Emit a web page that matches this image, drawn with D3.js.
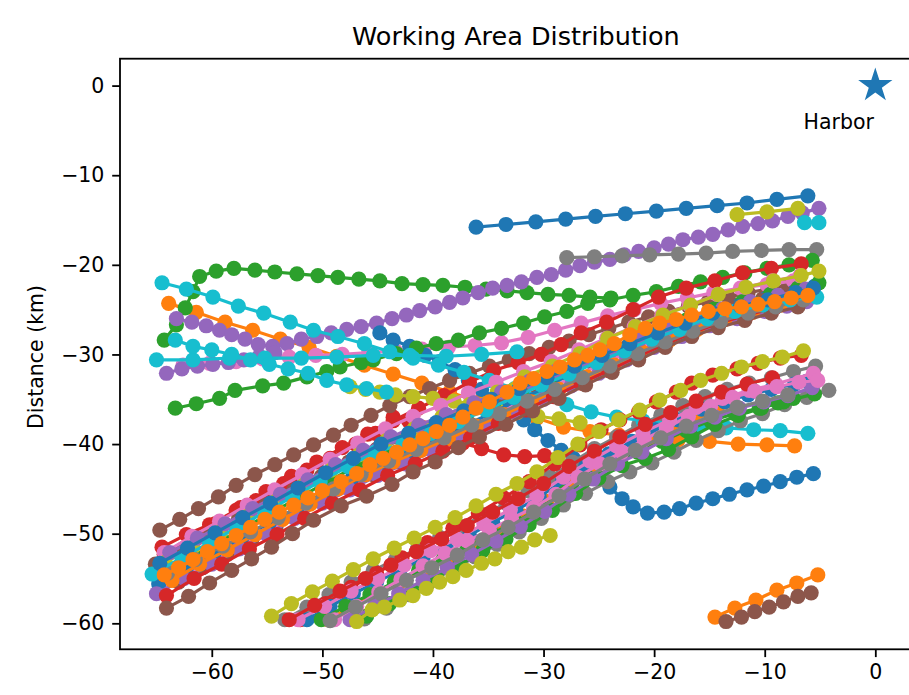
<!DOCTYPE html>
<html lang="en">
<head>
<meta charset="UTF-8">
<title>Working Area Distribution</title>
<script src="https://d3js.org/d3.v7.min.js"></script>
<style>
  body { margin: 0; background: #fff; }
  svg { display: block; font-family: "DejaVu Sans", sans-serif; }
</style>
</head>
<body>
<svg id="chart" width="909" height="695"></svg>
<script>
// boat tracks, [x km, y km] relative to the harbor
// cycle 1
const blueNorth = [[-36.1,-15.8],[-33.4,-15.5],[-30.7,-15.2],[-28.0,-14.9],[-25.3,-14.6],[-22.6,-14.3],[-19.8,-14.0],[-17.1,-13.7],[-14.3,-13.4],[-11.6,-13.1],[-8.9,-12.7],[-6.1,-12.3]];
const orangeWest = [[-63.9,-24.3],[-61.4,-25.3],[-58.8,-26.4],[-56.3,-27.3],[-53.8,-28.3],[-51.2,-29.2],[-48.7,-30.2],[-46.2,-31.2],[-43.6,-32.2],[-41.0,-33.2],[-38.5,-34.2],[-35.8,-35.3],[-33.2,-36.2],[-30.6,-37.1],[-28.2,-38.1],[-25.8,-38.6],[-23.2,-39.0],[-20.5,-39.3],[-17.8,-39.5],[-15.0,-39.7],[-12.4,-40.0],[-9.8,-40.1],[-7.3,-40.2]];
const greenNorth = [[-64.3,-28.4],[-63.2,-26.7],[-62.4,-24.8],[-61.7,-23.0],[-61.1,-21.3],[-59.6,-20.7],[-58.0,-20.4],[-56.1,-20.6],[-54.3,-20.8],[-52.3,-21.0],[-50.4,-21.2],[-48.6,-21.4],[-46.7,-21.6],[-44.8,-21.8],[-42.8,-22.1],[-40.9,-22.2],[-39.1,-22.3],[-37.1,-22.5],[-35.2,-22.7],[-33.3,-22.9],[-31.5,-23.1],[-29.6,-23.3],[-27.7,-23.4],[-25.8,-23.6],[-23.9,-23.7]];
const redTurn = [[-64.5,-51.5],[-62.3,-50.1],[-60.2,-49.0],[-57.8,-47.4],[-56.0,-46.3],[-53.5,-44.4],[-51.4,-42.9],[-49.3,-41.6],[-47.0,-40.0],[-45.2,-38.8],[-43.6,-37.0],[-42.2,-37.4],[-40.8,-38.2],[-39.1,-39.1],[-37.3,-39.9],[-35.6,-40.5],[-33.6,-41.2],[-31.7,-41.4],[-29.9,-41.3]];
const purpleLong = [[-63.2,-26.0],[-61.8,-26.4],[-60.5,-26.8],[-59.3,-27.3],[-58.2,-27.8],[-57.0,-28.3],[-55.8,-28.9],[-54.5,-29.1],[-53.2,-28.8],[-51.9,-28.3],[-50.5,-28.0],[-49.2,-27.6],[-47.8,-27.2],[-46.5,-26.9],[-45.1,-26.5],[-43.7,-26.0],[-42.4,-25.6],[-41.2,-25.1],[-39.8,-24.7],[-38.5,-24.2],[-37.3,-23.7],[-35.9,-23.1],[-34.6,-22.6],[-33.3,-22.3],[-32.0,-21.9],[-30.6,-21.4],[-29.3,-21.1],[-28.0,-20.6],[-26.7,-20.1],[-25.4,-19.7],[-24.0,-19.4],[-22.7,-18.9],[-21.4,-18.5],[-20.0,-18.1],[-18.7,-17.7],[-17.4,-17.2],[-16.0,-16.9],[-14.7,-16.6],[-13.3,-16.1],[-12.0,-15.7],[-10.6,-15.4],[-9.3,-15.1],[-7.9,-14.6],[-6.6,-14.2],[-5.1,-13.7]];
const brownTop = [[-64.7,-49.6],[-62.9,-48.4],[-61.2,-47.2],[-59.4,-45.9],[-57.8,-44.6],[-56.1,-43.4],[-54.3,-42.3],[-52.6,-41.2],[-50.8,-40.1],[-49.0,-39.0],[-47.4,-37.9],[-45.6,-36.8],[-43.9,-35.7],[-42.1,-34.7],[-40.3,-33.8],[-38.5,-32.9],[-36.7,-32.1],[-34.9,-31.3],[-33.1,-30.6],[-31.3,-29.9],[-29.5,-29.2],[-27.7,-28.5],[-25.9,-27.8],[-24.1,-27.1],[-22.3,-26.4],[-20.5,-25.8],[-18.7,-25.2],[-16.9,-24.6],[-15.1,-24.1],[-13.3,-23.6],[-11.5,-23.1],[-9.7,-22.7],[-7.9,-22.3]];
const pinkWest = [[-62.6,-31.2],[-60.2,-31.0],[-57.8,-30.8],[-55.4,-30.5],[-53.0,-30.3],[-50.6,-30.1],[-48.2,-30.0],[-45.8,-29.8],[-43.4,-29.6],[-41.0,-29.4],[-38.6,-29.2],[-36.2,-29.0],[-33.8,-28.7],[-31.4,-28.1],[-29.0,-27.3],[-26.6,-26.5],[-24.2,-25.7],[-21.8,-25.0],[-19.4,-24.3],[-17.0,-23.7],[-14.6,-23.1],[-12.2,-22.6],[-9.8,-22.2],[-7.4,-21.8]];
const grayNorth = [[-27.9,-19.2],[-25.4,-19.1],[-22.9,-19.0],[-20.4,-18.9],[-17.8,-18.8],[-15.3,-18.7],[-12.9,-18.5],[-10.3,-18.4],[-7.8,-18.3],[-5.3,-18.3]];
const oliveShort = [[-12.5,-14.4],[-9.8,-14.1],[-7.0,-13.7]];
const cyanShort = [[-6.4,-15.3],[-5.1,-15.3]];

// cycle 2
const blueDip = [[-44.8,-27.6],[-43.6,-28.4],[-42.1,-29.1],[-40.7,-30.1],[-39.4,-30.8],[-38.0,-31.7],[-36.8,-32.9],[-35.6,-33.9],[-34.4,-34.9],[-33.1,-36.1],[-31.8,-37.3],[-30.8,-38.4],[-29.6,-39.6],[-28.4,-40.7],[-27.3,-41.6],[-26.1,-42.5],[-25.1,-43.6],[-24.0,-44.8],[-22.9,-46.1],[-21.9,-47.0],[-20.6,-47.7],[-19.1,-47.6],[-17.7,-47.2],[-16.2,-46.6],[-14.7,-46.1],[-13.2,-45.6],[-11.6,-45.1],[-10.1,-44.7],[-8.6,-44.2],[-7.1,-43.7],[-5.6,-43.3]];
const orangeSouth = [[-14.5,-59.3],[-12.7,-58.3],[-10.8,-57.4],[-8.9,-56.3],[-7.1,-55.5],[-5.2,-54.6]];
const greenRise = [[-63.3,-36.0],[-61.4,-35.5],[-59.3,-34.9],[-57.9,-34.0],[-55.4,-33.5],[-53.5,-33.2],[-51.4,-32.5],[-49.6,-31.9],[-48.4,-31.4],[-46.5,-30.9],[-45.4,-30.6],[-43.3,-29.9],[-41.5,-29.3],[-39.7,-28.8],[-37.7,-28.4],[-35.8,-27.6],[-33.8,-27.1],[-31.8,-26.5],[-29.9,-25.8],[-27.9,-25.2],[-26.0,-24.3],[-24.0,-23.9],[-21.9,-23.4],[-19.8,-23.0],[-17.8,-22.4],[-15.8,-21.9],[-13.8,-21.4],[-11.8,-20.9],[-9.8,-20.4],[-7.8,-20.0],[-5.7,-19.5]];
const redTop = [[-64.3,-52.3],[-62.0,-50.6],[-59.7,-48.9],[-57.4,-47.1],[-55.1,-45.3],[-52.8,-43.6],[-50.5,-42.0],[-48.2,-40.4],[-45.9,-38.9],[-43.6,-37.4],[-41.3,-36.0],[-39.0,-34.6],[-36.7,-33.1],[-34.5,-31.8],[-32.3,-30.9],[-30.2,-30.0],[-28.4,-28.9],[-26.6,-27.6],[-24.3,-26.4],[-21.9,-25.0],[-19.6,-23.6],[-17.1,-22.6],[-14.5,-21.8],[-12.0,-20.9],[-9.4,-20.4],[-6.7,-19.9]];
const purpleWest = [[-64.1,-32.1],[-62.7,-31.6],[-61.3,-31.3],[-59.9,-31.1],[-58.5,-30.9],[-57.1,-30.6],[-55.7,-30.2],[-54.3,-29.8]];
const brownMid = [[-63.0,-55.4],[-60.8,-53.8],[-58.6,-52.3],[-56.4,-50.8],[-54.2,-49.3],[-52.0,-47.8],[-49.8,-46.3],[-47.6,-44.9],[-45.4,-43.4],[-43.2,-42.0],[-41.0,-40.6],[-38.8,-39.2],[-36.6,-37.8],[-34.4,-36.5],[-32.2,-35.0],[-30.0,-33.6],[-27.8,-32.2],[-25.6,-30.9],[-23.4,-29.6],[-21.2,-28.4],[-19.0,-27.3],[-16.8,-26.3],[-14.6,-25.4],[-12.4,-24.5],[-10.2,-23.8]];
const pinkUpper = [[-64.4,-55.6],[-61.9,-53.8],[-59.4,-52.2],[-56.9,-50.5],[-54.4,-48.8],[-51.9,-47.1],[-49.4,-45.4],[-46.9,-43.8],[-44.4,-42.2],[-41.9,-40.9],[-39.4,-39.5],[-36.9,-38.0],[-34.4,-36.6],[-31.9,-35.1],[-29.4,-33.7],[-26.9,-32.3],[-24.4,-30.9],[-21.9,-29.5],[-19.4,-28.1],[-16.9,-26.9],[-14.4,-25.7],[-11.9,-24.8],[-9.4,-24.1],[-6.9,-23.3]];
const grayLowerA = [[-53.4,-59.6],[-51.4,-58.2],[-49.4,-56.8],[-47.4,-55.4],[-45.4,-54.1],[-43.4,-52.9],[-41.4,-51.7],[-39.4,-50.4],[-37.4,-49.2],[-35.4,-47.9],[-33.4,-46.6],[-31.4,-45.2],[-29.4,-43.7],[-27.4,-42.0],[-25.4,-40.5],[-23.4,-39.2],[-21.4,-37.9],[-19.4,-36.8],[-17.4,-35.7],[-15.4,-34.7],[-13.4,-33.9],[-11.4,-33.2],[-9.4,-32.6],[-7.4,-31.9],[-5.4,-31.3]];
const oliveMid = [[-47.5,-33.6],[-46.1,-33.9],[-44.8,-34.2],[-43.4,-34.5],[-41.8,-34.7],[-40.0,-34.9],[-38.1,-35.2],[-36.2,-35.6],[-34.3,-36.0],[-32.4,-36.5],[-30.5,-36.9],[-28.6,-37.2],[-26.7,-37.6]];
const cyanWest = [[-64.5,-22.0],[-62.3,-22.7],[-59.9,-23.6],[-57.6,-24.6],[-55.3,-25.4],[-52.9,-26.4],[-50.8,-27.3],[-48.6,-28.0],[-46.2,-28.8],[-43.9,-29.7],[-41.8,-30.4],[-39.5,-31.2],[-37.2,-32.0],[-34.9,-32.9],[-32.6,-33.8],[-30.3,-34.7],[-27.9,-35.6],[-25.7,-36.4],[-23.4,-37.0],[-21.0,-37.4],[-18.6,-37.7],[-16.0,-38.0],[-13.5,-38.2],[-11.0,-38.4],[-8.6,-38.5],[-6.1,-38.8]];

// cycle 3
const blueUpperA = [[-64.8,-55.6],[-62.3,-53.8],[-59.8,-52.2],[-57.3,-50.5],[-54.8,-48.8],[-52.3,-47.1],[-49.8,-45.4],[-47.3,-43.8],[-44.8,-42.2],[-42.3,-40.9],[-39.8,-39.5],[-37.3,-38.0],[-34.8,-36.6],[-32.3,-35.1],[-29.8,-33.7],[-27.3,-32.0],[-24.8,-30.5],[-22.3,-29.1],[-19.8,-27.7],[-17.3,-26.5],[-14.8,-25.3],[-12.3,-24.5],[-9.8,-23.7],[-7.3,-23.0],[-5.5,-22.4]];
const orangeLower = [[-49.5,-59.6],[-47.3,-58.1],[-45.1,-56.7],[-42.9,-55.3],[-40.7,-53.8],[-38.5,-52.5],[-36.3,-51.0],[-34.1,-49.6],[-31.9,-48.0],[-29.7,-46.4],[-27.5,-44.5],[-25.3,-42.8],[-23.1,-41.3],[-20.9,-39.9],[-18.7,-38.6],[-16.5,-37.3],[-14.3,-36.3]];
const greenUpper = [[-64.5,-54.4],[-62.0,-52.7],[-59.5,-51.0],[-57.0,-49.3],[-54.5,-47.6],[-52.0,-45.9],[-49.5,-44.2],[-47.0,-42.5],[-44.5,-40.9],[-42.0,-39.6],[-39.5,-38.3],[-37.0,-36.8],[-34.5,-35.4],[-32.0,-34.1],[-29.5,-32.8],[-27.0,-31.4],[-24.5,-30.0],[-22.0,-28.6],[-19.5,-27.3],[-17.0,-26.1],[-14.5,-24.9],[-12.0,-24.1],[-9.5,-23.3],[-7.0,-22.6],[-5.1,-22.0]];
const redLowerA = [[-52.0,-59.6],[-49.7,-57.8],[-47.4,-56.0],[-45.1,-54.4],[-42.8,-52.7],[-40.5,-51.0],[-38.2,-49.4],[-35.9,-47.7],[-33.6,-46.0],[-31.3,-44.2],[-29.0,-42.2],[-26.7,-40.1],[-24.8,-38.4],[-23.1,-37.3],[-21.4,-36.4],[-19.8,-35.3],[-18.0,-34.2],[-16.6,-33.2],[-14.7,-32.3],[-12.5,-31.6],[-10.6,-31.0],[-8.6,-30.4],[-6.7,-30.1]];
const purpleUpperA = [[-65.0,-56.7],[-62.5,-55.0],[-60.0,-53.4],[-57.5,-51.7],[-55.0,-50.1],[-52.5,-48.3],[-50.0,-46.6],[-47.5,-45.1],[-45.0,-43.5],[-42.5,-42.2],[-40.0,-40.8],[-37.5,-39.5],[-35.0,-38.0],[-32.5,-36.5],[-30.0,-35.0],[-27.5,-33.5],[-25.0,-32.1],[-22.5,-30.6],[-20.0,-29.2],[-17.5,-28.0],[-15.0,-26.8],[-12.5,-26.0],[-10.0,-25.2],[-8.0,-24.6],[-6.2,-24.1]];
const brownUpperA = [[-65.1,-53.4],[-62.6,-51.7],[-60.1,-50.1],[-57.6,-48.4],[-55.1,-46.8],[-52.6,-45.2],[-50.1,-43.6],[-47.6,-42.0],[-45.1,-40.6],[-42.6,-39.4],[-40.1,-38.3],[-37.6,-37.0],[-35.1,-35.8],[-32.6,-34.6],[-30.1,-33.3],[-27.6,-32.0],[-25.1,-30.7],[-22.6,-29.3],[-20.1,-28.0],[-17.6,-26.8],[-15.1,-25.6],[-12.6,-24.8],[-10.1,-24.0],[-8.0,-23.3]];
const pinkUpperB = [[-64.3,-52.1],[-61.8,-50.3],[-59.3,-48.6],[-56.8,-46.8],[-54.3,-45.1],[-51.8,-43.4],[-49.3,-41.7],[-46.8,-39.9],[-44.3,-38.3],[-41.8,-36.9],[-39.3,-35.7],[-36.8,-34.3],[-34.3,-33.1],[-31.8,-31.9],[-29.3,-30.8],[-26.8,-29.5],[-24.3,-28.2],[-21.8,-26.9],[-19.3,-25.6],[-16.8,-24.5],[-14.3,-23.3],[-11.8,-22.5],[-9.3,-21.8],[-6.8,-21.2]];
const grayLowerB = [[-46.2,-59.5],[-44.2,-58.3],[-42.2,-56.8],[-40.2,-55.3],[-38.2,-54.0],[-36.2,-52.6],[-34.2,-51.2],[-32.2,-49.8],[-30.2,-48.3],[-28.2,-46.8],[-26.2,-45.5],[-24.2,-44.2],[-22.2,-43.1],[-20.2,-42.1],[-18.2,-40.9],[-16.2,-39.6],[-14.2,-38.5],[-12.2,-37.4],[-10.2,-36.6],[-8.2,-35.6],[-6.2,-34.8],[-4.2,-34.0]];
const oliveUpper = [[-64.2,-53.2],[-61.7,-51.5],[-59.2,-49.8],[-56.7,-48.0],[-54.2,-46.4],[-51.7,-44.6],[-49.2,-42.9],[-46.7,-41.2],[-44.2,-39.6],[-41.7,-38.3],[-39.2,-37.0],[-36.7,-35.6],[-34.2,-34.2],[-31.7,-32.5],[-29.2,-31.3],[-26.7,-29.9],[-24.2,-28.2],[-21.7,-26.9],[-19.2,-25.6],[-16.7,-24.5],[-14.2,-23.3],[-11.7,-22.5],[-9.2,-21.8],[-6.7,-21.2],[-5.1,-20.7]];
const cyanFlat = [[-65.0,-30.6],[-61.7,-30.6],[-58.4,-30.4],[-55.2,-30.4],[-51.9,-30.4],[-48.7,-30.3],[-45.4,-30.1],[-42.1,-30.1],[-38.8,-30.2],[-35.6,-30.0],[-32.4,-29.7]];

// cycle 4
const blueLower = [[-51.4,-59.6],[-49.3,-58.1],[-47.2,-56.7],[-45.1,-55.4],[-43.0,-54.1],[-40.9,-52.8],[-38.8,-51.5],[-36.7,-50.2],[-34.6,-48.7],[-32.5,-47.4],[-30.4,-45.9],[-28.3,-44.2],[-26.2,-42.5],[-24.1,-41.1],[-22.0,-39.7],[-19.9,-38.4],[-17.8,-37.3],[-15.7,-36.1],[-13.6,-35.3],[-11.5,-34.5],[-9.4,-33.9],[-7.3,-33.3],[-6.2,-33.0]];
const orangeUpper = [[-63.6,-55.2],[-61.1,-53.4],[-58.6,-51.8],[-56.1,-50.1],[-53.6,-48.4],[-51.1,-46.7],[-48.6,-45.0],[-46.1,-43.4],[-43.6,-42.0],[-41.1,-40.7],[-38.6,-39.4],[-36.1,-38.0],[-33.6,-36.7],[-31.1,-35.3],[-28.6,-33.9],[-26.1,-32.5],[-23.6,-31.2],[-21.1,-29.7],[-18.6,-28.4],[-16.1,-27.2],[-13.6,-26.1],[-11.1,-25.3],[-8.6,-24.5]];
const greenLowerA = [[-50.1,-59.6],[-47.9,-58.1],[-45.7,-56.8],[-43.5,-55.4],[-41.3,-54.1],[-39.1,-52.9],[-36.9,-51.5],[-34.7,-50.0],[-32.5,-48.7],[-30.3,-47.1],[-28.1,-45.4],[-25.9,-43.8],[-23.7,-42.2],[-21.5,-40.9],[-19.3,-39.7],[-17.1,-38.5],[-14.9,-37.4],[-12.7,-36.6],[-10.5,-36.0],[-8.3,-35.3],[-5.5,-34.4]];
const redUpper = [[-64.1,-56.9],[-61.6,-55.0],[-59.1,-53.4],[-56.6,-51.7],[-54.1,-50.1],[-51.6,-48.3],[-49.1,-46.6],[-46.6,-45.1],[-44.1,-43.5],[-41.6,-42.2],[-39.1,-40.8],[-36.6,-39.3],[-34.1,-37.7],[-31.6,-36.2],[-29.1,-34.7],[-26.6,-33.2],[-24.1,-31.8],[-21.6,-30.3],[-19.1,-28.9],[-16.6,-27.6],[-14.1,-26.5],[-11.6,-25.6],[-9.1,-24.8]];
const purpleUpperB = [[-63.8,-52.1],[-61.3,-50.5],[-58.8,-48.9],[-56.3,-47.2],[-53.8,-45.6],[-51.3,-44.0],[-48.8,-42.3],[-46.3,-40.7],[-43.8,-39.2],[-41.3,-37.9],[-38.8,-36.7],[-36.3,-35.4],[-33.8,-34.2],[-31.3,-33.0],[-28.8,-31.8],[-26.3,-30.6],[-23.8,-29.5],[-21.3,-28.3],[-18.8,-27.1],[-16.3,-26.0],[-13.8,-24.9],[-11.3,-24.1],[-8.8,-23.4],[-6.3,-22.7]];
const brownBottom = [[-64.1,-58.3],[-62.1,-57.0],[-60.2,-55.5],[-58.2,-54.1],[-56.4,-52.8],[-54.6,-51.5],[-52.7,-50.0],[-50.8,-48.5],[-48.3,-46.9],[-46.0,-45.8],[-43.7,-44.5],[-41.8,-43.1],[-39.8,-42.0],[-37.7,-40.4],[-35.8,-39.2],[-33.4,-37.8],[-31.0,-36.3],[-28.6,-34.9],[-26.2,-33.4],[-23.8,-32.0],[-21.4,-30.6],[-19.0,-29.2],[-16.6,-28.0],[-14.2,-27.0],[-11.8,-26.2],[-9.4,-25.4],[-7.0,-24.7]];
const pinkLowerA = [[-52.2,-59.6],[-49.8,-58.1],[-47.4,-56.4],[-45.0,-55.0],[-42.6,-53.5],[-40.2,-51.9],[-37.8,-50.6],[-35.4,-48.9],[-33.0,-47.3],[-30.6,-45.7],[-28.2,-43.7],[-25.8,-41.9],[-23.4,-40.2],[-21.0,-38.7],[-18.6,-37.3],[-16.2,-35.9],[-13.8,-34.9],[-11.4,-34.0],[-9.0,-33.3],[-5.6,-32.1]];
const grayUpper = [[-64.0,-54.4],[-61.5,-52.9],[-59.0,-51.4],[-56.5,-49.8],[-54.0,-48.2],[-51.5,-46.6],[-49.0,-45.0],[-46.5,-43.4],[-44.0,-41.9],[-41.5,-40.6],[-39.0,-39.3],[-36.5,-37.9],[-34.0,-36.6],[-31.5,-35.2],[-29.0,-33.9],[-26.5,-32.6],[-24.0,-31.3],[-21.5,-29.9],[-19.0,-28.6],[-16.5,-27.4],[-14.0,-26.3],[-11.5,-25.4],[-9.0,-24.7],[-6.5,-23.9]];
const oliveLowerTop = [[-54.6,-59.2],[-52.8,-57.8],[-50.9,-56.5],[-49.1,-55.3],[-47.2,-54.0],[-45.4,-52.8],[-43.5,-51.6],[-41.7,-50.5],[-39.8,-49.3],[-38.0,-48.2],[-36.1,-46.9],[-34.3,-45.6],[-32.4,-44.4],[-30.6,-43.1],[-28.7,-41.5],[-26.9,-40.0],[-25.0,-38.6],[-23.2,-37.3],[-21.3,-36.2],[-19.5,-35.1],[-17.6,-34.0],[-15.8,-32.9],[-13.9,-32.1],[-12.1,-31.4],[-10.2,-30.8],[-8.4,-30.3],[-6.5,-29.6]];
const cyanUpper = [[-65.4,-54.5],[-62.7,-52.7],[-60.2,-51.0],[-57.7,-49.3],[-55.2,-47.6],[-52.7,-45.9],[-50.2,-44.2],[-47.7,-42.5],[-45.2,-40.9],[-42.7,-40.0],[-40.2,-38.8],[-37.7,-37.5],[-35.2,-36.2],[-32.7,-34.8],[-30.2,-33.4],[-27.7,-32.2],[-25.2,-30.9],[-22.7,-29.6],[-20.2,-28.3],[-17.7,-27.2],[-15.2,-26.0],[-12.7,-25.2],[-10.2,-24.5],[-7.7,-23.9],[-5.3,-23.6]];

// cycle 5
const blueUpperB = [[-64.7,-53.3],[-62.2,-51.6],[-59.7,-49.9],[-57.2,-48.2],[-54.7,-46.6],[-52.2,-44.9],[-49.7,-43.2],[-47.2,-41.6],[-44.7,-40.0],[-42.2,-38.8],[-39.7,-37.6],[-37.2,-36.3],[-34.7,-35.0],[-32.2,-33.8],[-29.7,-32.6],[-27.2,-31.3],[-24.7,-30.1],[-22.2,-28.8],[-19.7,-27.6],[-17.2,-26.5],[-14.7,-25.4],[-12.2,-24.6],[-9.7,-23.9],[-7.2,-23.1],[-5.6,-22.6]];
const orangeMain = [[-64.3,-54.6],[-63.0,-53.8],[-61.7,-52.9],[-60.4,-52.0],[-59.1,-51.1],[-57.8,-50.2],[-56.5,-49.3],[-55.2,-48.4],[-53.9,-47.6],[-52.6,-46.8],[-51.3,-46.0],[-50.0,-45.2],[-48.3,-44.2],[-46.9,-43.3],[-45.7,-42.3],[-44.5,-41.6],[-43.3,-40.9],[-42.1,-40.1],[-40.9,-39.4],[-39.7,-38.6],[-38.5,-37.9],[-37.3,-37.0],[-36.1,-36.0],[-34.9,-35.3],[-33.3,-34.2],[-32.1,-33.2],[-30.9,-32.7],[-29.7,-31.9],[-28.5,-31.4],[-27.2,-30.6],[-26.0,-30.1],[-24.9,-29.5],[-23.6,-28.8],[-22.2,-27.8],[-20.8,-27.1],[-19.5,-26.5],[-18.0,-26.1],[-16.6,-25.6],[-15.1,-25.2],[-13.6,-24.9],[-12.1,-24.7],[-10.6,-24.4],[-9.1,-24.1],[-7.6,-23.7],[-6.1,-23.4]];
const greenLowerB = [[-46.0,-59.2],[-43.9,-57.8],[-41.8,-56.4],[-39.7,-54.9],[-37.6,-53.5],[-35.5,-51.9],[-33.4,-50.6],[-31.3,-49.0],[-29.2,-47.4],[-27.1,-45.5],[-25.0,-43.8],[-22.9,-42.4],[-20.8,-41.6],[-18.7,-40.6],[-16.6,-39.2],[-14.5,-37.8],[-12.4,-36.8],[-10.3,-36.0],[-8.8,-35.4],[-7.4,-34.9]];
const redLowerB = [[-53.0,-59.6],[-50.7,-58.0],[-48.4,-56.4],[-46.1,-55.0],[-43.8,-53.5],[-41.5,-52.0],[-39.2,-50.6],[-36.9,-49.1],[-34.6,-47.6],[-32.3,-46.1],[-30.0,-44.4],[-27.7,-42.5],[-25.4,-40.8],[-23.1,-39.2],[-20.8,-37.8],[-18.5,-36.5],[-16.2,-35.2],[-13.9,-34.2],[-11.6,-33.3],[-9.3,-32.6]];
const purpleLower = [[-47.5,-59.6],[-45.3,-58.1],[-43.1,-56.7],[-40.9,-55.2],[-38.7,-53.8],[-36.5,-52.3],[-34.3,-50.8],[-32.1,-49.2],[-29.9,-47.5],[-27.7,-45.6],[-25.5,-43.9],[-23.3,-42.2],[-21.1,-40.9],[-18.9,-39.4],[-16.7,-38.0],[-14.5,-37.0],[-12.3,-36.0],[-10.1,-35.3],[-7.9,-34.6],[-5.7,-33.7]];
const brownSouth = [[-13.5,-59.8],[-12.1,-59.3],[-10.9,-58.7],[-9.6,-58.2],[-8.3,-57.6],[-7.0,-57.0],[-5.8,-56.6]];
const pinkLowerB = [[-48.9,-59.6],[-46.9,-58.1],[-44.9,-56.5],[-42.9,-55.1],[-40.9,-53.6],[-38.9,-52.2],[-36.9,-50.8],[-34.9,-49.6],[-32.9,-48.3],[-30.9,-47.1],[-28.9,-45.6],[-26.9,-43.7],[-24.9,-42.2],[-22.9,-40.9],[-20.9,-39.5],[-18.9,-38.2],[-16.9,-36.9],[-14.9,-35.8],[-12.9,-34.8],[-10.9,-34.1],[-8.9,-33.6],[-6.9,-33.1],[-5.2,-32.9]];
const grayLowerC = [[-49.3,-59.7],[-47.0,-58.2],[-44.7,-56.7],[-42.4,-55.2],[-40.1,-53.8],[-37.8,-52.4],[-35.5,-50.7],[-33.2,-49.3],[-30.9,-47.6],[-28.6,-45.8],[-26.3,-43.9],[-24.0,-42.2],[-21.7,-40.7],[-19.4,-39.3],[-17.1,-38.0],[-14.8,-36.8],[-12.5,-35.9],[-10.2,-35.2],[-7.9,-34.5]];
const oliveLowerBottom = [[-46.9,-59.8],[-45.5,-58.5],[-44.4,-58.2],[-43.0,-57.4],[-41.8,-56.9],[-40.6,-56.1],[-39.4,-55.4],[-38.2,-54.8],[-37.0,-54.1],[-35.6,-53.3],[-34.4,-52.8],[-33.2,-52.0],[-32.0,-51.5],[-30.8,-50.7],[-29.4,-50.2]];
const cyanLeft = [[-63.3,-28.4],[-61.7,-29.1],[-60.0,-29.5],[-58.2,-30.0],[-56.5,-30.6],[-54.8,-31.1],[-53.1,-31.6],[-51.3,-32.1],[-49.6,-32.9],[-47.8,-33.4],[-46.0,-33.8],[-44.2,-34.2]];

// plot order = colour cycle order
const tracks = [
  blueNorth, orangeWest, greenNorth, redTurn, purpleLong, brownTop, pinkWest, grayNorth, oliveShort, cyanShort,
  blueDip, orangeSouth, greenRise, redTop, purpleWest, brownMid, pinkUpper, grayLowerA, oliveMid, cyanWest,
  blueUpperA, orangeLower, greenUpper, redLowerA, purpleUpperA, brownUpperA, pinkUpperB, grayLowerB, oliveUpper, cyanFlat,
  blueLower, orangeUpper, greenLowerA, redUpper, purpleUpperB, brownBottom, pinkLowerA, grayUpper, oliveLowerTop, cyanUpper,
  blueUpperB, orangeMain, greenLowerB, redLowerB, purpleLower, brownSouth, pinkLowerB, grayLowerC, oliveLowerBottom, cyanLeft
];

const harbor = [0, 0];
const harborLabel = "Harbor";
const xTicks = [-60, -50, -40, -30, -20, -10, 0];
const yTicks = [0, -10, -20, -30, -40, -50, -60];

const svg = d3.select("#chart");
const W = 909, H = 695;
const plot = {left: 120, top: 58.7, right: 911.8, bottom: 649.3};

const x = d3.scaleLinear().domain([-68.3, 3.3]).range([plot.left, plot.right]);
const y = d3.scaleLinear().domain([-62.9, 3.0]).range([plot.bottom, plot.top]);
const color = d3.scaleOrdinal().domain(d3.range(10)).range(d3.schemeCategory10);

svg.append("rect").attr("width", W).attr("height", H).attr("fill", "#fff");

svg.append("defs").append("clipPath").attr("id", "plotClip")
  .append("rect")
  .attr("x", plot.left).attr("y", plot.top)
  .attr("width", plot.right - plot.left).attr("height", plot.bottom - plot.top);

const area = svg.append("g").attr("clip-path", "url(#plotClip)");

const line = d3.line().x(d => x(d[0])).y(d => y(d[1]));

// each track: line then its markers, in plot order
tracks.forEach((t, i) => {
  const g = area.append("g");
  const c = color(i % 10);
  g.append("path")
    .attr("d", line(t))
    .attr("fill", "none")
    .attr("stroke", c)
    .attr("stroke-width", 3.2)
    .attr("stroke-linejoin", "round");
  g.selectAll("circle").data(t).join("circle")
    .attr("cx", d => x(d[0]))
    .attr("cy", d => y(d[1]))
    .attr("r", 7.6)
    .attr("fill", c);
});

// harbor star
area.append("path")
  .attr("d", d3.symbol().type(d3.symbolStar).size(364)())
  .attr("transform", `translate(${x(harbor[0])},${y(harbor[1])})`)
  .attr("fill", "#1f77b4");

svg.append("text")
  .attr("x", x(harbor[0] - 3.3))
  .attr("y", y(harbor[1] - 4.85))
  .attr("text-anchor", "middle")
  .attr("font-size", "20.5px")
  .attr("fill", "#000")
  .text(harborLabel);

// axes
const fmt = d3.format("");
const xAxis = svg.append("g")
  .attr("transform", `translate(0,${plot.bottom})`)
  .call(d3.axisBottom(x).tickValues(xTicks).tickFormat(fmt).tickSize(7.8).tickPadding(7.8));
const yAxis = svg.append("g")
  .attr("transform", `translate(${plot.left},0)`)
  .call(d3.axisLeft(y).tickValues(yTicks).tickFormat(fmt).tickSize(7.8).tickPadding(7.8));

[xAxis, yAxis].forEach(a => {
  a.select(".domain").remove();
  a.selectAll(".tick line").attr("stroke", "#000").attr("stroke-width", 1.8);
  a.selectAll(".tick text")
    .attr("fill", "#000")
    .attr("font-size", "20.5px")
    .attr("font-family", "DejaVu Sans, sans-serif");
});

// spines
svg.append("rect")
  .attr("x", plot.left).attr("y", plot.top)
  .attr("width", plot.right - plot.left).attr("height", plot.bottom - plot.top)
  .attr("fill", "none")
  .attr("stroke", "#000")
  .attr("stroke-width", 1.8);

// labels
svg.append("text")
  .attr("x", (plot.left + plot.right) / 2)
  .attr("y", 45)
  .attr("text-anchor", "middle")
  .attr("font-size", "25.5px")
  .attr("fill", "#000")
  .text("Working Area Distribution");

svg.append("text")
  .attr("transform", `translate(42.5,${(plot.top + plot.bottom) / 2 + 3}) rotate(-90)`)
  .attr("text-anchor", "middle")
  .attr("font-size", "20.5px")
  .attr("fill", "#000")
  .text("Distance (km)");

// x label sits mostly below the picture edge, as in the reference
svg.append("text")
  .attr("x", (plot.left + plot.right) / 2)
  .attr("y", 712)
  .attr("text-anchor", "middle")
  .attr("font-size", "20.5px")
  .attr("fill", "#000")
  .text("Distance (km)");
</script>
</body>
</html>
